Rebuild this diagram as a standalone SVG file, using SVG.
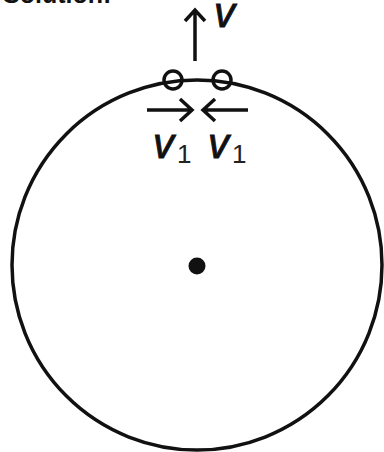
<svg xmlns="http://www.w3.org/2000/svg" width="384" height="452" viewBox="0 0 384 452">
<style>
.ln{fill:none;stroke:#111;stroke-width:3.5;stroke-linecap:butt;stroke-linejoin:miter}
.lab{font-family:"Liberation Sans",Arial,sans-serif;font-style:italic;fill:#111;stroke:#111;stroke-width:0.9}
.sub{font-family:"Liberation Sans",Arial,sans-serif;fill:#222}
</style>
<rect width="384" height="452" fill="#fff"/>
<text x="3" y="3" font-family="Liberation Sans,Arial,sans-serif" font-weight="bold" font-size="25" fill="#111">Solution:</text>
<g id="track">
<circle cx="197" cy="265" r="185" class="ln"/>
</g>
<g id="centre">
<circle cx="197" cy="266" r="8.5" fill="#111"/>
</g>
<g id="bead-left">
<circle cx="173" cy="80" r="9" class="ln" stroke-width="2.8"/>
</g>
<g id="bead-right">
<circle cx="222" cy="80" r="9" class="ln" stroke-width="2.8"/>
</g>
<g id="connectors">
<path class="ln" d="M195 61V10M185 21L195 10L205 21"/>
<path class="ln" d="M147 110H192M180 99L192 110L180 121"/>
<path class="ln" d="M248 110H203M215 99L203 110L215 121"/>
</g>
<g id="labels">
<text class="lab" x="214" y="27" font-size="42">v</text>
<text class="lab" x="153" y="158" font-size="42">v</text>
<text class="sub" x="177" y="163" font-size="26">1</text>
<text class="lab" x="208" y="158" font-size="42">v</text>
<text class="sub" x="232" y="163" font-size="26">1</text>
</g>
</svg>
